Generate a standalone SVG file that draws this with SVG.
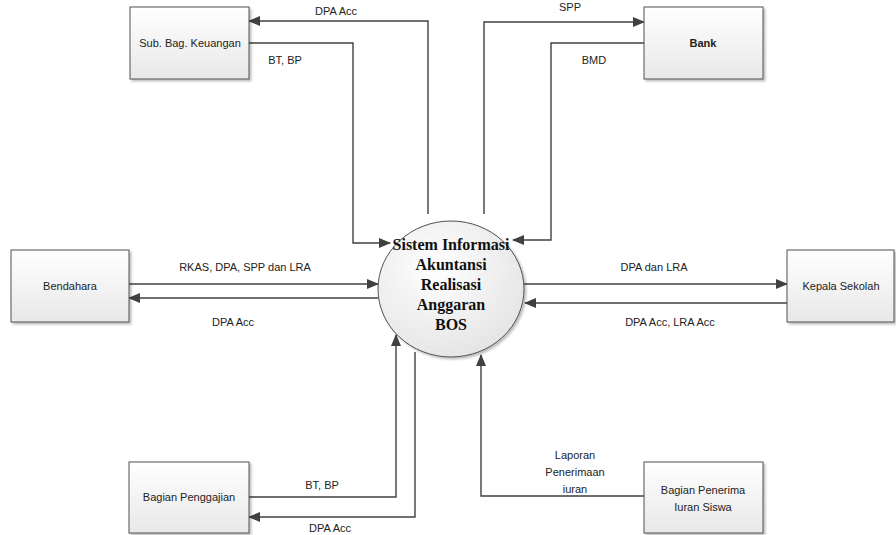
<svg xmlns="http://www.w3.org/2000/svg" width="896" height="535" viewBox="0 0 896 535">
<defs>
<linearGradient id="bg" x1="0" y1="0" x2="0" y2="1">
<stop offset="0" stop-color="#ffffff"/><stop offset="1" stop-color="#e8e8e8"/>
</linearGradient>
<radialGradient id="cg" cx="0.4" cy="0.35" r="0.7">
<stop offset="0" stop-color="#ffffff"/><stop offset="1" stop-color="#e4e4e4"/>
</radialGradient>
<filter id="sh" x="-10%" y="-10%" width="130%" height="130%">
<feDropShadow dx="2" dy="2" stdDeviation="1.2" flood-color="#000" flood-opacity="0.25"/>
</filter>
<marker id="ah" markerWidth="12" markerHeight="10" refX="11" refY="5" orient="auto" markerUnits="userSpaceOnUse">
<path d="M0,0 L12,5 L0,10 Z" fill="#404040"/>
</marker>
</defs>
<style>
.box{fill:url(#bg);stroke:#505050;stroke-width:1;filter:url(#sh)}
.t{font-family:"Liberation Sans",Arial,sans-serif;font-size:11px;fill:#222;text-anchor:middle}
.b{font-weight:bold}
.c{font-family:"Liberation Serif","Times New Roman",serif;font-size:16px;font-weight:bold;fill:#111;text-anchor:middle}
.ln{fill:none;stroke:#404040;stroke-width:1.4}
.a{marker-end:url(#ah)}
</style>
<g id="connectors">
<polyline class="ln a" points="428,214 428,21 249,21"/>
<polyline class="ln a" points="249,43 353,43 353,243 390,243"/>
<polyline class="ln a" points="484,214 484,22 644,22"/>
<polyline class="ln a" points="644,43 551,43 551,240 513,240"/>
<polyline class="ln a" points="129,284 378,284"/>
<polyline class="ln a" points="378,298 129,298"/>
<polyline class="ln a" points="524,284 787,284"/>
<polyline class="ln a" points="787,303 525,303"/>
<polyline class="ln a" points="249,497 396,497 396,335"/>
<polyline class="ln a" points="415,352 415,517 249,517"/>
<polyline class="ln a" points="644,496 481,496 481,355"/>
<text class="t" x="336" y="15">DPA Acc</text>
<text class="t" x="285" y="64">BT, BP</text>
<text class="t" x="570" y="11">SPP</text>
<text class="t" x="594" y="64">BMD</text>
<text class="t" x="245" y="271">RKAS, DPA, SPP dan LRA</text>
<text class="t" x="233" y="326">DPA Acc</text>
<text class="t" x="654" y="271">DPA dan LRA</text>
<text class="t" x="670" y="326">DPA Acc, LRA Acc</text>
<text class="t" x="322" y="489">BT, BP</text>
<text class="t" x="330" y="532">DPA Acc</text>
<text class="t" x="575" y="459">Laporan</text>
<text class="t" x="575" y="476">Penerimaan</text>
<text class="t" x="575" y="493">iuran</text>
</g>
<g id="process">
<ellipse cx="451" cy="289" rx="73" ry="68" fill="url(#cg)" stroke="#505050" stroke-width="1" filter="url(#sh)"/>
<text class="c" x="451" y="250">Sistem Informasi</text>
<text class="c" x="451" y="270">Akuntansi</text>
<text class="c" x="451" y="290">Realisasi</text>
<text class="c" x="451" y="310">Anggaran</text>
<text class="c" x="451" y="330">BOS</text>
</g>
<g id="subbag">
<rect class="box" x="130" y="7" width="119" height="72"/>
<text class="t" x="190" y="47">Sub. Bag. Keuangan</text>
</g>
<g id="bank">
<rect class="box" x="644" y="7" width="119" height="72"/>
<text class="t b" x="703" y="47">Bank</text>
</g>
<g id="bendahara">
<rect class="box" x="11" y="250" width="118" height="72"/>
<text class="t" x="70" y="290">Bendahara</text>
</g>
<g id="kepala">
<rect class="box" x="787" y="250" width="107" height="72"/>
<text class="t" x="841" y="290">Kepala Sekolah</text>
</g>
<g id="penggajian">
<rect class="box" x="129" y="462" width="120" height="71"/>
<text class="t" x="189" y="501">Bagian Penggajian</text>
</g>
<g id="penerima">
<rect class="box" x="644" y="462" width="119" height="71"/>
<text class="t" x="703" y="494">Bagian Penerima</text>
<text class="t" x="703" y="511">Iuran Siswa</text>
</g>
</svg>
